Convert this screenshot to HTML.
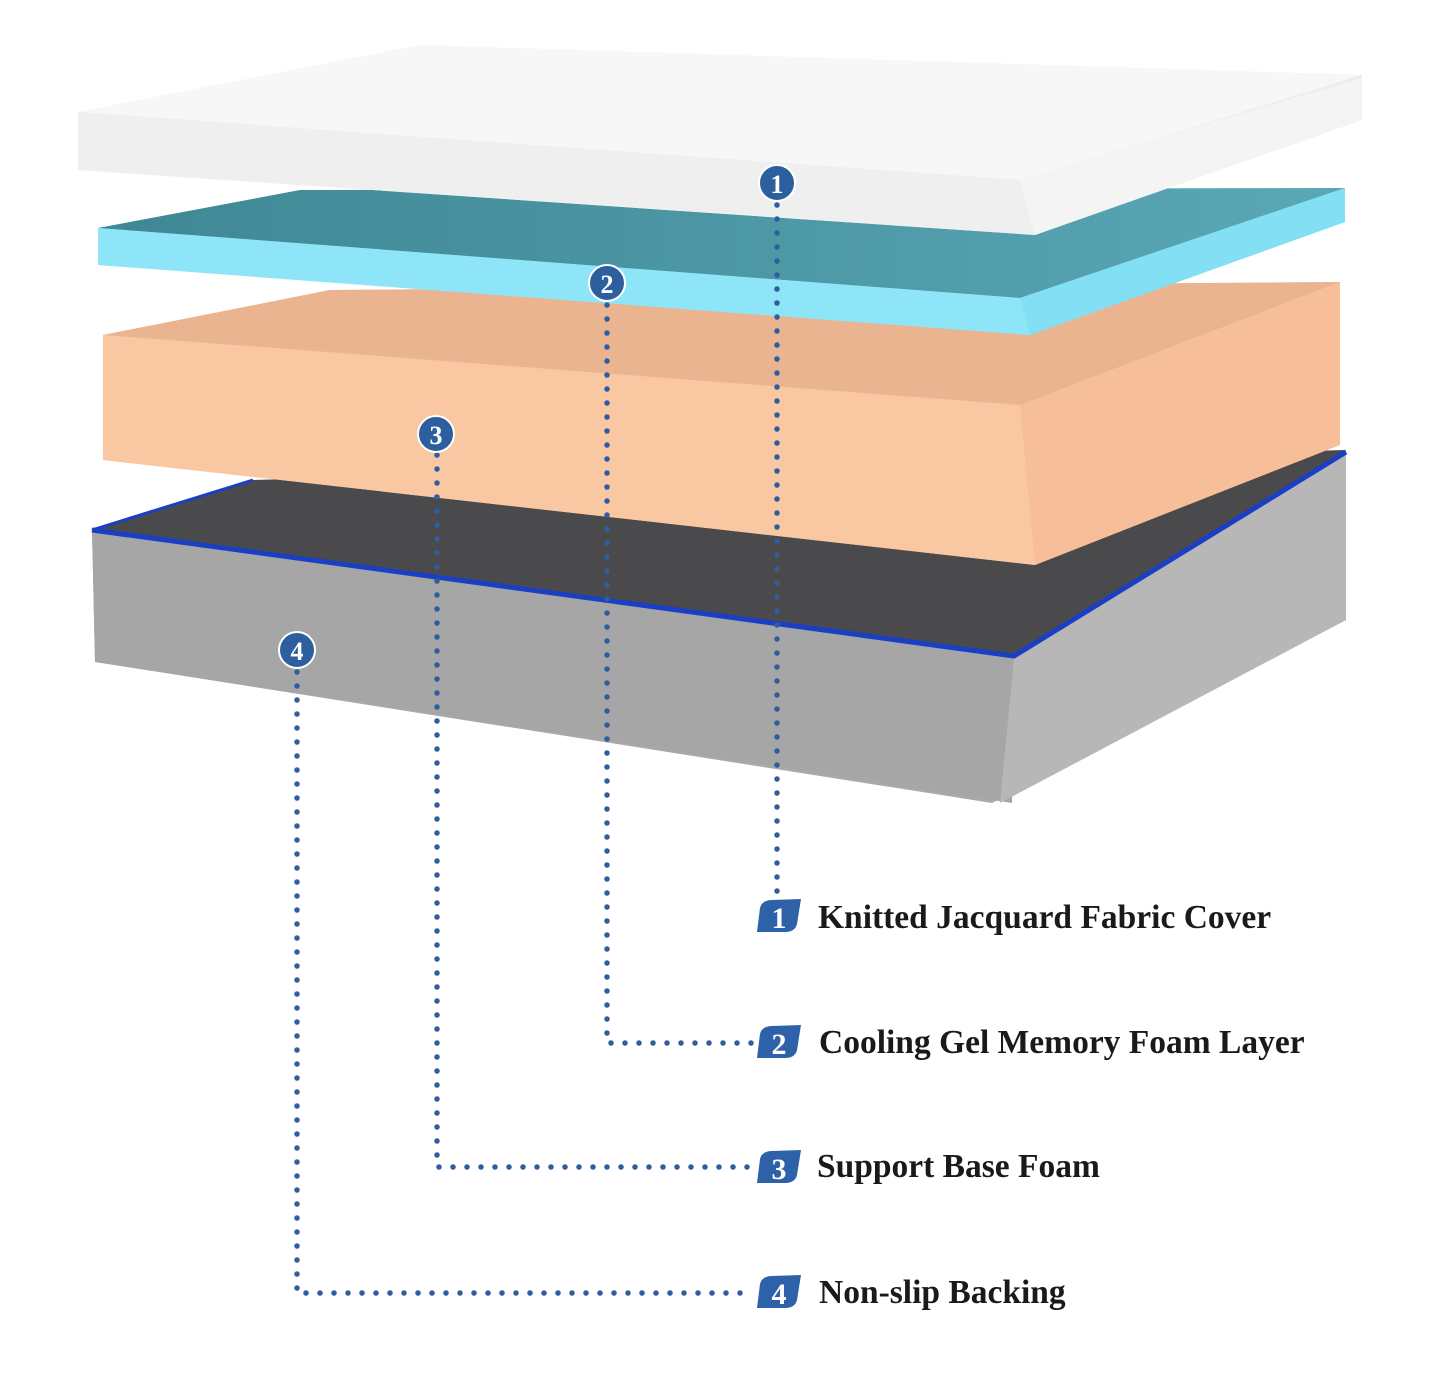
<!DOCTYPE html>
<html><head><meta charset="utf-8"><style>
html,body{margin:0;padding:0;background:#fff;}
svg{display:block}
.lbl{font-family:"Liberation Serif",serif;font-weight:bold;font-size:33.5px;fill:#1a1a1a}
.num{font-family:"Liberation Serif",serif;font-weight:bold;font-size:26px;fill:#fff}
.bn{font-family:"Liberation Serif",serif;font-weight:bold;font-size:30px;fill:#fff}
</style></head><body>
<svg width="1440" height="1376" viewBox="0 0 1440 1376" xmlns="http://www.w3.org/2000/svg">
<defs>
<linearGradient id="gw" x1="0" y1="0" x2="1" y2="0"><stop offset="0" stop-color="#f2f2f2"/><stop offset="0.6" stop-color="#fafafa"/><stop offset="1" stop-color="#ececec"/></linearGradient>
<linearGradient id="gt" x1="0" y1="0" x2="1" y2="0"><stop offset="0" stop-color="#3f8795"/><stop offset="1" stop-color="#5aa7b5"/></linearGradient>
</defs>
<!-- gray base -->
<polygon points="92,530 253,480 1346,450 1346,620 992,803 95,662" fill="#a9a9a9"/>
<polygon points="92,530 253,480 1346,450 1014,658" fill="#4a4a4c"/>
<polygon points="92,530 1014,658 1012,803 95,662" fill="#a6a6a6"/>
<polygon points="1014,658 1346,452 1346,620 1000,803" fill="#b7b7b7"/>
<polyline points="92,530 1014,656 1346,452" fill="none" stroke="#1b3fc4" stroke-width="5" stroke-linejoin="round"/>
<line x1="92" y1="530" x2="253" y2="480" stroke="#1b3fc4" stroke-width="3"/>
<!-- orange -->
<polygon points="103,335 330,290 1340,282 1340,445 1035,565 103,460" fill="#f7c29c"/>
<polygon points="103,335 330,290 1340,282 1020,405" fill="#eab491"/>
<polygon points="103,335 1020,405 1035,565 103,460" fill="#fac7a3"/>
<polygon points="1020,405 1340,282 1340,445 1035,565" fill="#f6bf9a"/>
<!-- cyan -->
<polygon points="98,228 300,195 1345,188 1345,222 1030,335 98,265" fill="#8fe6f7"/>
<polygon points="98,228 300,190 1345,188 1020,298" fill="url(#gt)"/>
<polygon points="98,228 1020,298 1030,335 98,265" fill="#8ee5f8"/>
<polygon points="1020,298 1345,188 1345,222 1030,335" fill="#82dff4"/>
<!-- white -->
<polygon points="78,112 420,45 1362,75 1362,120 1035,235 78,170" fill="url(#gw)"/>
<polygon points="78,112 420,45 1362,75 1020,180" fill="#f7f7f7"/>
<polygon points="78,112 1020,180 1035,235 78,170" fill="#efefef"/>
<polygon points="1020,180 1362,78 1362,120 1035,235" fill="#f4f4f4"/>
<!-- dotted connectors -->
<g fill="none" stroke="#2d5e9e" stroke-width="5.5" stroke-linecap="round" stroke-dasharray="0 14">
<path d="M777,205 V895"/>
<path d="M607,305 V1043 H752"/>
<path d="M437,455 V1167 H752"/>
<path d="M297,672 V1293 H752"/>
</g>
<!-- circles -->
<g stroke="#fff" stroke-width="2" fill="#2d5e9e">
<circle cx="777" cy="183" r="18"/><circle cx="607" cy="283" r="18"/><circle cx="436" cy="434" r="18"/><circle cx="297" cy="650" r="18"/>
</g>
<g class="num" text-anchor="middle">
<text x="777" y="193">1</text><text x="607" y="293">2</text><text x="436" y="444">3</text><text x="297" y="660">4</text>
</g>
<!-- badges -->
<g fill="#2e62a8">
<path d="M757,932 L760,908 Q762,900 772,900 L801,899 L797,924 Q795,932 785,932Z"/>
<path d="M757,1058 L760,1034 Q762,1026 772,1026 L801,1025 L797,1050 Q795,1058 785,1058Z"/>
<path d="M757,1183 L760,1159 Q762,1151 772,1151 L801,1150 L797,1175 Q795,1183 785,1183Z"/>
<path d="M757,1308 L760,1284 Q762,1276 772,1276 L801,1275 L797,1300 Q795,1308 785,1308Z"/>
</g>
<g class="bn" text-anchor="middle">
<text x="779" y="928">1</text><text x="779" y="1054">2</text><text x="779" y="1179">3</text><text x="779" y="1304">4</text>
</g>
<text class="lbl" x="818" y="928">Knitted Jacquard Fabric Cover</text>
<text class="lbl" x="819" y="1053">Cooling Gel Memory Foam Layer</text>
<text class="lbl" x="817" y="1177">Support Base Foam</text>
<text class="lbl" x="819" y="1303">Non-slip Backing</text>
</svg>
</body></html>
